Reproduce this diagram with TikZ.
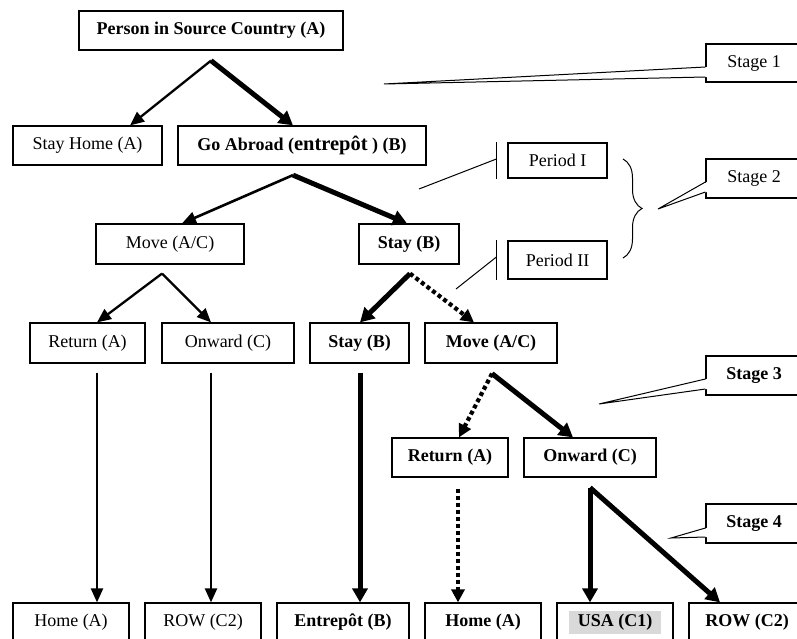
\documentclass[tikz,border=0pt]{standalone}
\usepackage{fontspec}
\setmainfont{Liberation Serif}
\usetikzlibrary{arrows.meta,decorations.pathreplacing,calc}
\definecolor{usagray}{RGB}{217,217,217}
\begin{document}
\begin{tikzpicture}[x=1pt,y=-1pt,
  box/.style={draw, line width=1.2pt, inner sep=0pt, minimum height=39pt, font=\fontsize{18}{20}\selectfont},
  bbox/.style={box, font=\fontsize{18}{20}\selectfont\bfseries},
  thinarr/.style={line width=2.3pt, -{Triangle[length=14pt,width=12pt]}},
  thickarr/.style={line width=5pt, -{Triangle[length=14pt,width=15pt]}},
  dotarr/.style={line width=4.2pt, dash pattern=on 4pt off 3pt, -{Triangle[length=13pt,width=13pt]}},
  callout/.style={line width=1pt},
]
\useasboundingbox (0,0) rectangle (797,639);
\clip (0,0) rectangle (797,639);

% main boxes
\node[bbox, minimum width=264pt] (person) at (211,30.5) {Person in Source Country (A)};
\node[box, minimum width=149pt] (stayhome) at (87.5,145.5) {Stay Home (A)};
\node[bbox, minimum width=248pt] (abroad) at (302,145.5) {Go Abroad ({\fontsize{20.5}{22}\selectfont entrepôt} ) (B)};
\node[box, minimum width=148pt, minimum height=40pt] (moveL) at (170,244) {Move (A/C)};
\node[bbox, minimum width=100pt, minimum height=40pt] (stayM) at (409,244) {Stay (B)};
\node[box, minimum width=115pt, minimum height=40pt] (retL) at (87.5,343) {Return (A)};
\node[box, minimum width=132pt, minimum height=40pt] (onwL) at (228,343) {Onward (C)};
\node[bbox, minimum width=99pt, minimum height=40pt] (stayL) at (359.5,343) {Stay (B)};
\node[bbox, minimum width=132pt, minimum height=40pt] (moveB) at (491,343) {Move (A/C)};
\node[bbox, minimum width=116pt] (retB) at (450,457.5) {Return (A)};
\node[bbox, minimum width=132pt] (onwB) at (590,457.5) {Onward (C)};
\node[box, minimum width=116pt] (homeL) at (71,622.5) {Home (A)};
\node[box, minimum width=116pt] (rowL) at (203,622.5) {ROW (C2)};
\node[bbox, minimum width=132pt] (entre) at (343,622.5) {Entrepôt (B)};
\node[bbox, minimum width=116pt] (homeB) at (483,622.5) {Home (A)};
\node[bbox, minimum width=116pt] (usa) at (615,622.5) {\setlength\fboxsep{3.5pt}\colorbox{usagray}{\hspace{5.5pt}USA (C1)\hspace{5.5pt}}};
\node[bbox, minimum width=116pt] (rowB) at (747,622.5) {ROW (C2)};

% stage boxes
\node[box, minimum width=96pt, minimum height=38pt] (st1) at (754,63) {Stage 1};
\node[box, minimum width=96pt] (st2) at (754,178.5) {Stage 2};
\node[bbox, minimum width=96pt] (st3) at (754,375.5) {Stage 3};
\node[bbox, minimum width=96pt] (st4) at (754,523.5) {Stage 4};

% period boxes
\node[box, minimum width=99pt, minimum height=35pt] (per1) at (557.5,160.5) {Period I};
\node[box, minimum width=99pt, minimum height=38pt] (per2) at (557.5,260) {Period II};

% callout pointers
\coordinate (t1) at (384,84);
\coordinate (t2) at (658,209);
\coordinate (t3) at (599,404);
\coordinate (t4) at (671,538);
\fill[white] ([xshift=1.5pt,yshift=-4pt]st1.west) -- (t1) -- ([xshift=1.5pt,yshift=-14pt]st1.west) -- cycle;
\draw[callout] ([yshift=-4pt]st1.west) -- (t1) -- ([yshift=-14pt]st1.west);
\fill[white] ([xshift=1.5pt,yshift=-3.5pt]st2.west) -- (t2) -- ([xshift=1.5pt,yshift=-13.5pt]st2.west) -- cycle;
\draw[callout] ([yshift=-3.5pt]st2.west) -- (t2) -- ([yshift=-13.5pt]st2.west);
\fill[white] ([xshift=1.5pt,yshift=-3.5pt]st3.west) -- (t3) -- ([xshift=1.5pt,yshift=-13.5pt]st3.west) -- cycle;
\draw[callout] ([yshift=-3.5pt]st3.west) -- (t3) -- ([yshift=-13.5pt]st3.west);
\fill[white] ([xshift=1.5pt,yshift=-4.5pt]st4.west) -- (t4) -- ([xshift=1.5pt,yshift=-13.5pt]st4.west) -- cycle;
\draw[callout] ([yshift=-4.5pt]st4.west) -- (t4) -- ([yshift=-13.5pt]st4.west);

% period markers
\coordinate (p1) at (419,189);
\coordinate (p2) at (456,289);
\draw[line width=1pt] ([xshift=-11pt]per1.north west) -- ([xshift=-11pt]per1.south west);
\draw[line width=1pt] ([xshift=-11pt,yshift=1.5pt]per1.west) -- (p1);
\draw[line width=1pt] ([xshift=-11pt]per2.north west) -- ([xshift=-11pt]per2.south west);
\draw[line width=1pt] ([xshift=-11pt,yshift=3pt]per2.west) -- (p2);

% brace
\coordinate (b1) at (623,159);
\coordinate (b2) at (623,258);
\draw[line width=1pt, decorate, decoration={brace, amplitude=19pt}] (b1) -- (b2);

% arrows
\coordinate (a1) at ([yshift=-10pt]person.south);
\draw[thinarr] (a1) -- ([xshift=42.5pt]stayhome.north);
\draw[thickarr] (a1) -- ([xshift=-9pt]abroad.north);

\coordinate (a2) at ([xshift=-9pt,yshift=-9.5pt]abroad.south);
\draw[thinarr, line width=2.6pt] (a2) -- ([xshift=12pt]moveL.north);
\draw[thickarr] (a2) -- ([xshift=-2pt]stayM.north);

\coordinate (a3) at ([xshift=-8pt,yshift=-9pt]moveL.south);
\draw[thinarr] (a3) -- ([xshift=9.5pt]retL.north);
\draw[thinarr] (a3) -- ([xshift=-17pt]onwL.north);

\coordinate (a4) at ([xshift=1pt,yshift=-9pt]stayM.south);
\draw[thickarr] (a4) -- ([xshift=0.5pt]stayL.north);
\draw[dotarr] (a4) -- ([xshift=-17pt]moveB.north);

\draw[thinarr] ([xshift=9.5pt,yshift=-9pt]retL.south) -- ([xshift=26pt]homeL.north);
\draw[thinarr] ([xshift=-17pt,yshift=-9pt]onwL.south) -- ([xshift=8pt]rowL.north);
\draw[thickarr] ([xshift=0.5pt,yshift=-9pt]stayL.south) -- ([xshift=17pt]entre.north);

\coordinate (a5) at ([xshift=1pt,yshift=-10pt]moveB.south);
\draw[dotarr] (a5) -- ([xshift=9pt]retB.north);
\draw[thickarr] (a5) -- ([xshift=-17pt]onwB.north);

\draw[dotarr] ([xshift=8pt,yshift=-11pt]retB.south) -- ([xshift=-25pt]homeB.north);

\coordinate (a6) at ([yshift=-10pt]onwB.south);
\draw[thickarr] (a6) -- ([xshift=-25pt]usa.north);
\draw[thickarr] (a6) -- ([xshift=-27pt]rowB.north);
\end{tikzpicture}
\end{document}
